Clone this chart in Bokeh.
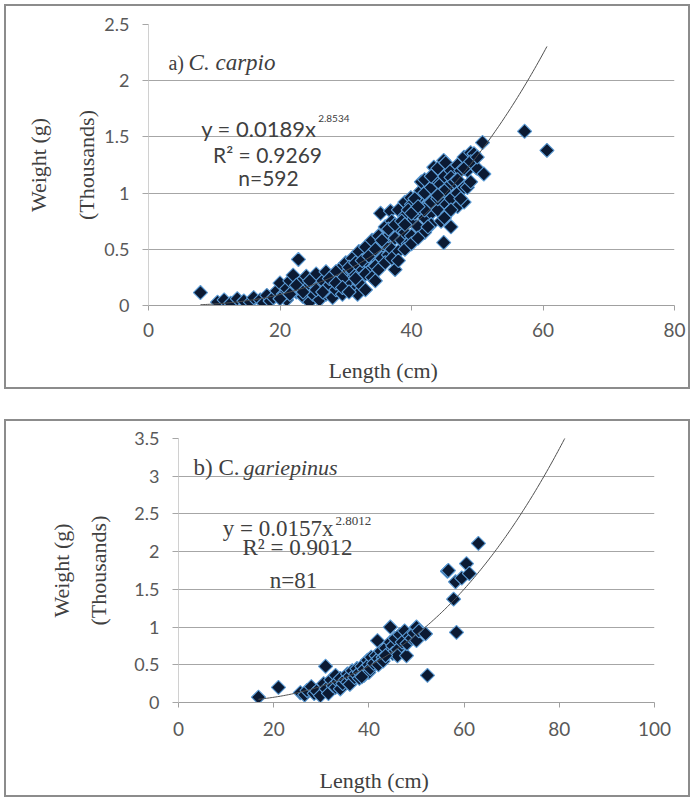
import math
from bokeh.plotting import figure
from bokeh.models import LinearAxis, FixedTicker, Label, Title
from bokeh.embed import file_html
from bokeh.resources import INLINE

# ---------------- data: a) C. carpio (weight in thousands of g) ----------------
carpio_length = [
    7.9, 10.5, 11.5, 12.5, 13.5, 14.5, 15.5, 16.0, 17.0, 17.5, 18.0, 18.5, 19.0, 19.5,
    20.0, 20.5, 21.0, 21.5, 21.0, 22.0, 22.5, 22.8, 23.0, 23.5, 24.0, 24.0, 24.5, 25.0,
    25.0, 25.5, 26.0, 26.0, 26.5, 27.0, 27.0, 27.5, 28.0, 28.0, 28.5, 29.0, 29.0, 29.5,
    30.0, 30.0, 30.0, 30.5, 31.0, 31.0, 31.5, 31.8, 32.0, 32.0, 32.5, 33.0, 33.0, 33.5,
    34.0, 34.0, 34.5, 35.0, 35.0, 35.3, 35.5, 36.0, 36.0, 36.5, 36.5, 36.8, 37.0, 37.0,
    37.5, 37.5, 38.0, 38.0, 38.0, 38.5, 39.0, 39.0, 39.0, 39.5, 39.9, 40.0, 40.0, 40.0,
    40.5, 41.0, 41.0, 41.4, 41.5, 42.0, 42.0, 42.0, 42.5, 43.0, 43.0, 43.0, 43.4, 43.5,
    44.0, 44.0, 44.0, 44.4, 44.5, 44.5, 44.9, 44.9, 45.0, 45.0, 45.2, 45.5, 45.5, 46.0,
    46.0, 46.0, 46.0, 46.5, 47.0, 47.0, 47.0, 47.5, 48.0, 48.0, 48.0, 48.5, 48.5, 49.0,
    49.0, 49.5, 49.8, 50.0, 50.8, 51.0, 57.2, 60.6,
    28.5, 29.5, 30.5, 31.5, 32.5, 33.5, 34.5, 35.5, 36.5, 37.5, 38.5, 39.5, 40.5, 41.5,
    32.0, 33.0, 34.0, 35.0, 36.0, 37.0, 38.0, 39.0, 40.0, 41.0, 42.0, 43.0, 44.0, 45.0,
    20.0, 21.5, 22.5, 23.5, 24.5, 25.5, 26.5, 27.5, 28.5, 29.5, 30.5, 31.5, 33.0, 34.5,
    39.0, 40.0, 41.0, 42.0, 43.0, 44.0, 45.0, 46.0, 47.0, 48.0, 49.0, 50.0, 42.5, 47.5,
]
carpio_weight = [
    0.115, 0.03, 0.05, 0.02, 0.06, 0.04, 0.03, 0.07, 0.05, 0.02, 0.09, 0.04, 0.07, 0.13,
    0.20, 0.10, 0.15, 0.22, 0.05, 0.27, 0.12, 0.41, 0.20, 0.08, 0.26, 0.15, 0.03, 0.10,
    0.20, 0.28, 0.05, 0.16, 0.22, 0.10, 0.30, 0.18, 0.07, 0.25, 0.14, 0.32, 0.20, 0.10,
    0.28, 0.18, 0.38, 0.22, 0.30, 0.42, 0.15, 0.10, 0.35, 0.48, 0.25, 0.40, 0.52, 0.30,
    0.45, 0.58, 0.35, 0.50, 0.62, 0.82, 0.42, 0.55, 0.70, 0.45, 0.62, 0.84, 0.75, 0.50,
    0.60, 0.32, 0.70, 0.85, 0.48, 0.58, 0.80, 0.65, 0.92, 0.55, 0.96, 0.75, 0.90, 0.62,
    0.82, 0.95, 0.70, 1.02, 0.85, 0.78, 1.00, 0.65, 0.90, 0.82, 1.05, 0.72, 1.23, 0.95,
    1.10, 0.85, 1.22, 1.08, 0.75, 1.00, 0.56, 1.29, 0.92, 1.15, 1.27, 1.05, 0.82, 1.20,
    0.95, 0.70, 1.14, 1.10, 1.25, 1.00, 0.88, 1.20, 1.32, 1.05, 0.92, 1.20, 1.05, 1.36,
    1.10, 1.35, 1.23, 1.22, 1.45, 1.17, 1.55, 1.38,
    0.30, 0.24, 0.34, 0.38, 0.40, 0.44, 0.50, 0.58, 0.68, 0.72, 0.75, 0.85, 0.95, 1.10,
    0.20, 0.28, 0.25, 0.32, 0.38, 0.42, 0.40, 0.50, 0.55, 0.60, 0.85, 0.92, 0.95, 1.02,
    0.06, 0.10, 0.18, 0.12, 0.22, 0.14, 0.12, 0.24, 0.20, 0.16, 0.12, 0.24, 0.14, 0.22,
    0.72, 0.82, 0.88, 1.12, 1.15, 0.98, 0.78, 0.85, 1.12, 1.22, 1.28, 1.32, 0.70, 0.95,
]
carpio_coef_a = 0.0189
carpio_coef_b = 2.8534
carpio_trend_range = [7.9, 60.6]

# ---------------- data: b) C. gariepinus ----------------
gariep_length = [
    16.8, 21.0, 25.6, 26.5, 27.0, 27.9, 28.5, 29.0, 29.8, 30.5, 30.9, 31.0, 31.5, 32.0,
    32.5, 33.0, 33.0, 33.5, 34.0, 34.0, 34.5, 35.0, 35.5, 35.5, 36.0, 36.0, 36.5, 37.0,
    37.2, 37.5, 38.0, 38.0, 38.5, 39.0, 39.0, 39.7, 40.0, 40.0, 40.3, 40.5, 41.0, 41.5,
    41.8, 42.0, 42.0, 42.5, 43.0, 43.0, 43.5, 44.0, 44.5, 44.5, 45.0, 45.0, 45.5, 46.0,
    46.0, 46.5, 47.0, 47.5, 47.9, 48.0, 48.5, 49.0, 49.5, 50.0, 50.0, 50.5, 51.9, 52.3,
    56.5, 56.7, 57.8, 58.2, 58.4, 59.5, 60.5, 61.1, 63.0, 38.5, 43.5,
]
gariep_weight = [
    0.07, 0.20, 0.13, 0.10, 0.16, 0.21, 0.12, 0.15, 0.09, 0.25, 0.48, 0.18, 0.12, 0.30,
    0.22, 0.36, 0.20, 0.28, 0.32, 0.18, 0.25, 0.30, 0.27, 0.38, 0.35, 0.24, 0.42, 0.33,
    0.38, 0.45, 0.40, 0.32, 0.48, 0.44, 0.36, 0.56, 0.50, 0.40, 0.45, 0.60, 0.52, 0.62,
    0.82, 0.58, 0.50, 0.68, 0.60, 0.55, 0.72, 0.65, 1.00, 0.80, 0.75, 0.65, 0.85, 0.70,
    0.62, 0.90, 0.80, 0.95, 0.62, 0.78, 0.88, 0.85, 0.92, 1.00, 0.82, 0.95, 0.91, 0.36,
    1.74, 1.75, 1.37, 1.60, 0.93, 1.65, 1.84, 1.71, 2.11, 0.34, 0.62,
]
gariep_coef_a = 0.0157
gariep_coef_b = 2.8012
gariep_trend_range = [16.8, 83.0]

carpio_xticks = [0, 20, 40, 60, 80]
carpio_yticks = [0, 0.5, 1, 1.5, 2, 2.5]
carpio_ytick_labels = ["0", "0.5", "1", "1.5", "2", "2.5"]
gariep_xticks = [0, 20, 40, 60, 80, 100]
gariep_yticks = [0, 0.5, 1, 1.5, 2, 2.5, 3, 3.5]
gariep_ytick_labels = ["0", "0.5", "1", "1.5", "2", "2.5", "3", "3.5"]

SERIF = "Liberation Serif"
SANS = "Lato"
TEXT = "#404040"
TICKTXT = "#595959"


def panel(xs, ys, a, b, trange, xmax, ymax, xticks, yticks, ylabels,
          width, height, mb_left, mb_right, mb_top, mb_bottom,
          lab_std_in, lab_std_out, xlab_offset, xlab_gap, xtick_standoff):
    p = figure(width=width, height=height, x_range=(0, xmax), y_range=(0, ymax),
               output_backend="svg", toolbar_location=None,
               min_border_left=mb_left, min_border_right=mb_right,
               min_border_top=mb_top, min_border_bottom=mb_bottom)
    p.styles = {"border": "2px solid #8c8c8c"}
    p.background_fill_color = "white"
    p.border_fill_color = "white"
    p.outline_line_color = None
    p.xgrid.visible = False
    p.ygrid.grid_line_color = "#a6a6a6"
    p.ygrid.grid_line_width = 1
    p.ygrid.ticker = FixedTicker(ticks=yticks)

    xa = p.xaxis[0]
    xa.ticker = FixedTicker(ticks=xticks)
    xa.axis_line_color = "#a0a0a0"
    xa.major_tick_line_color = "#a0a0a0"
    xa.major_tick_out = 5
    xa.major_tick_in = 0
    xa.minor_tick_out = 0
    xa.minor_tick_in = 0
    xa.major_label_text_font = SANS
    xa.major_label_text_font_size = "19px"
    xa.major_label_text_color = TICKTXT
    xa.major_label_standoff = xtick_standoff
    # invisible spacer label: keeps the title below at the reference distance
    xa.axis_label = " "
    xa.axis_label_text_font_size = "1px"
    xa.axis_label_standoff = xlab_gap

    ya = p.yaxis[0]
    ya.ticker = FixedTicker(ticks=yticks)
    ya.major_label_overrides = {t: l for t, l in zip(yticks, ylabels)}
    ya.axis_line_color = "#d0d0d0"
    ya.major_tick_line_color = "#a6a6a6"
    ya.major_tick_out = 6
    ya.major_tick_in = 0
    ya.minor_tick_out = 0
    ya.minor_tick_in = 0
    ya.major_label_text_font = SANS
    ya.major_label_text_font_size = "18px"
    ya.major_label_text_color = TICKTXT
    ya.major_label_standoff = 13
    ya.axis_label = "(Thousands)"
    ya.axis_label_text_font = SERIF
    ya.axis_label_text_font_style = "normal"
    ya.axis_label_text_font_size = "22px"
    ya.axis_label_text_color = TEXT
    ya.axis_label_standoff = lab_std_in

    outer = LinearAxis(ticker=FixedTicker(ticks=[]), axis_label="Weight (g)")
    outer.axis_line_color = None
    outer.major_tick_line_color = None
    outer.minor_tick_line_color = None
    outer.major_label_text_font_size = "0px"
    outer.major_label_standoff = 0
    outer.axis_label_text_font = SERIF
    outer.axis_label_text_font_style = "normal"
    outer.axis_label_text_font_size = "22px"
    outer.axis_label_text_color = TEXT
    outer.axis_label_standoff = lab_std_out
    p.add_layout(outer, "left")

    p.add_layout(Title(text="Length (cm)", align="left", offset=xlab_offset,
                       standoff=4, text_font=SERIF,
                       text_font_style="normal", text_font_size="22px",
                       text_color=TEXT), "below")

    tx = [trange[0] + (trange[1] - trange[0]) * i / 200 for i in range(201)]
    ty = [a * x ** b / 1000.0 for x in tx]
    p.scatter(xs, ys, marker="square", size=10, angle=math.pi / 4,
              fill_color="#0b1a33", line_color="#5b9bd5", line_width=1.1)
    p.line(tx, ty, line_color="#505050", line_width=1)
    return p


def lab(p, x, y, text, font, size, align="left", style="normal"):
    p.add_layout(Label(x=x, y=y, text=text, text_font=font, text_font_size=size,
                       text_font_style=style, text_color=TEXT, text_align=align,
                       text_baseline="middle"))


# ---------------- panel a ----------------
p1 = panel(carpio_length, carpio_weight, carpio_coef_a, carpio_coef_b,
           carpio_trend_range, 80, 2.5, carpio_xticks, carpio_yticks,
           carpio_ytick_labels, 686, 385, 142, 18, 18, 86,
           2, 21, 180, 10, 12)
p1.margin = (4, 0, 0, 4)
lab(p1, 3.04, 2.16, "a)", SERIF, "20px")
lab(p1, 6.1, 2.16, "C. carpio", SERIF, "23px", style="italic")
lab(p1, 25.55, 1.573, "y = 0.0189x", SANS, "22px", align="right")
lab(p1, 25.8, 1.66, "2.8534", SANS, "10px")
lab(p1, 18.1, 1.342, "R² = 0.9269", SANS, "21px", align="center")
lab(p1, 18.25, 1.138, "n=592", SANS, "21px", align="center")

# ---------------- panel b ----------------
p2 = panel(gariep_length, gariep_weight, gariep_coef_a, gariep_coef_b,
           gariep_trend_range, 100, 3.5, gariep_xticks, gariep_yticks,
           gariep_ytick_labels, 686, 378, 172, 38, 17, 97,
           20, 10, 141, 21, 14)
p2.margin = (30, 0, 0, 4)
lab(p2, 3.15, 3.117, "b) C.", SERIF, "23px")
lab(p2, 13.66, 3.117, "gariepinus", SERIF, "22px", style="italic")
lab(p2, 32.56, 2.308, "y = 0.0157x", SERIF, "23px", align="right")
lab(p2, 32.98, 2.40, "2.8012", SERIF, "13px")
lab(p2, 25.0, 2.056, "R² = 0.9012", SERIF, "23px", align="center")
lab(p2, 24.16, 1.618, "n=81", SERIF, "23px", align="center")

open("out.html", "w").write(file_html([p1, p2], INLINE))
